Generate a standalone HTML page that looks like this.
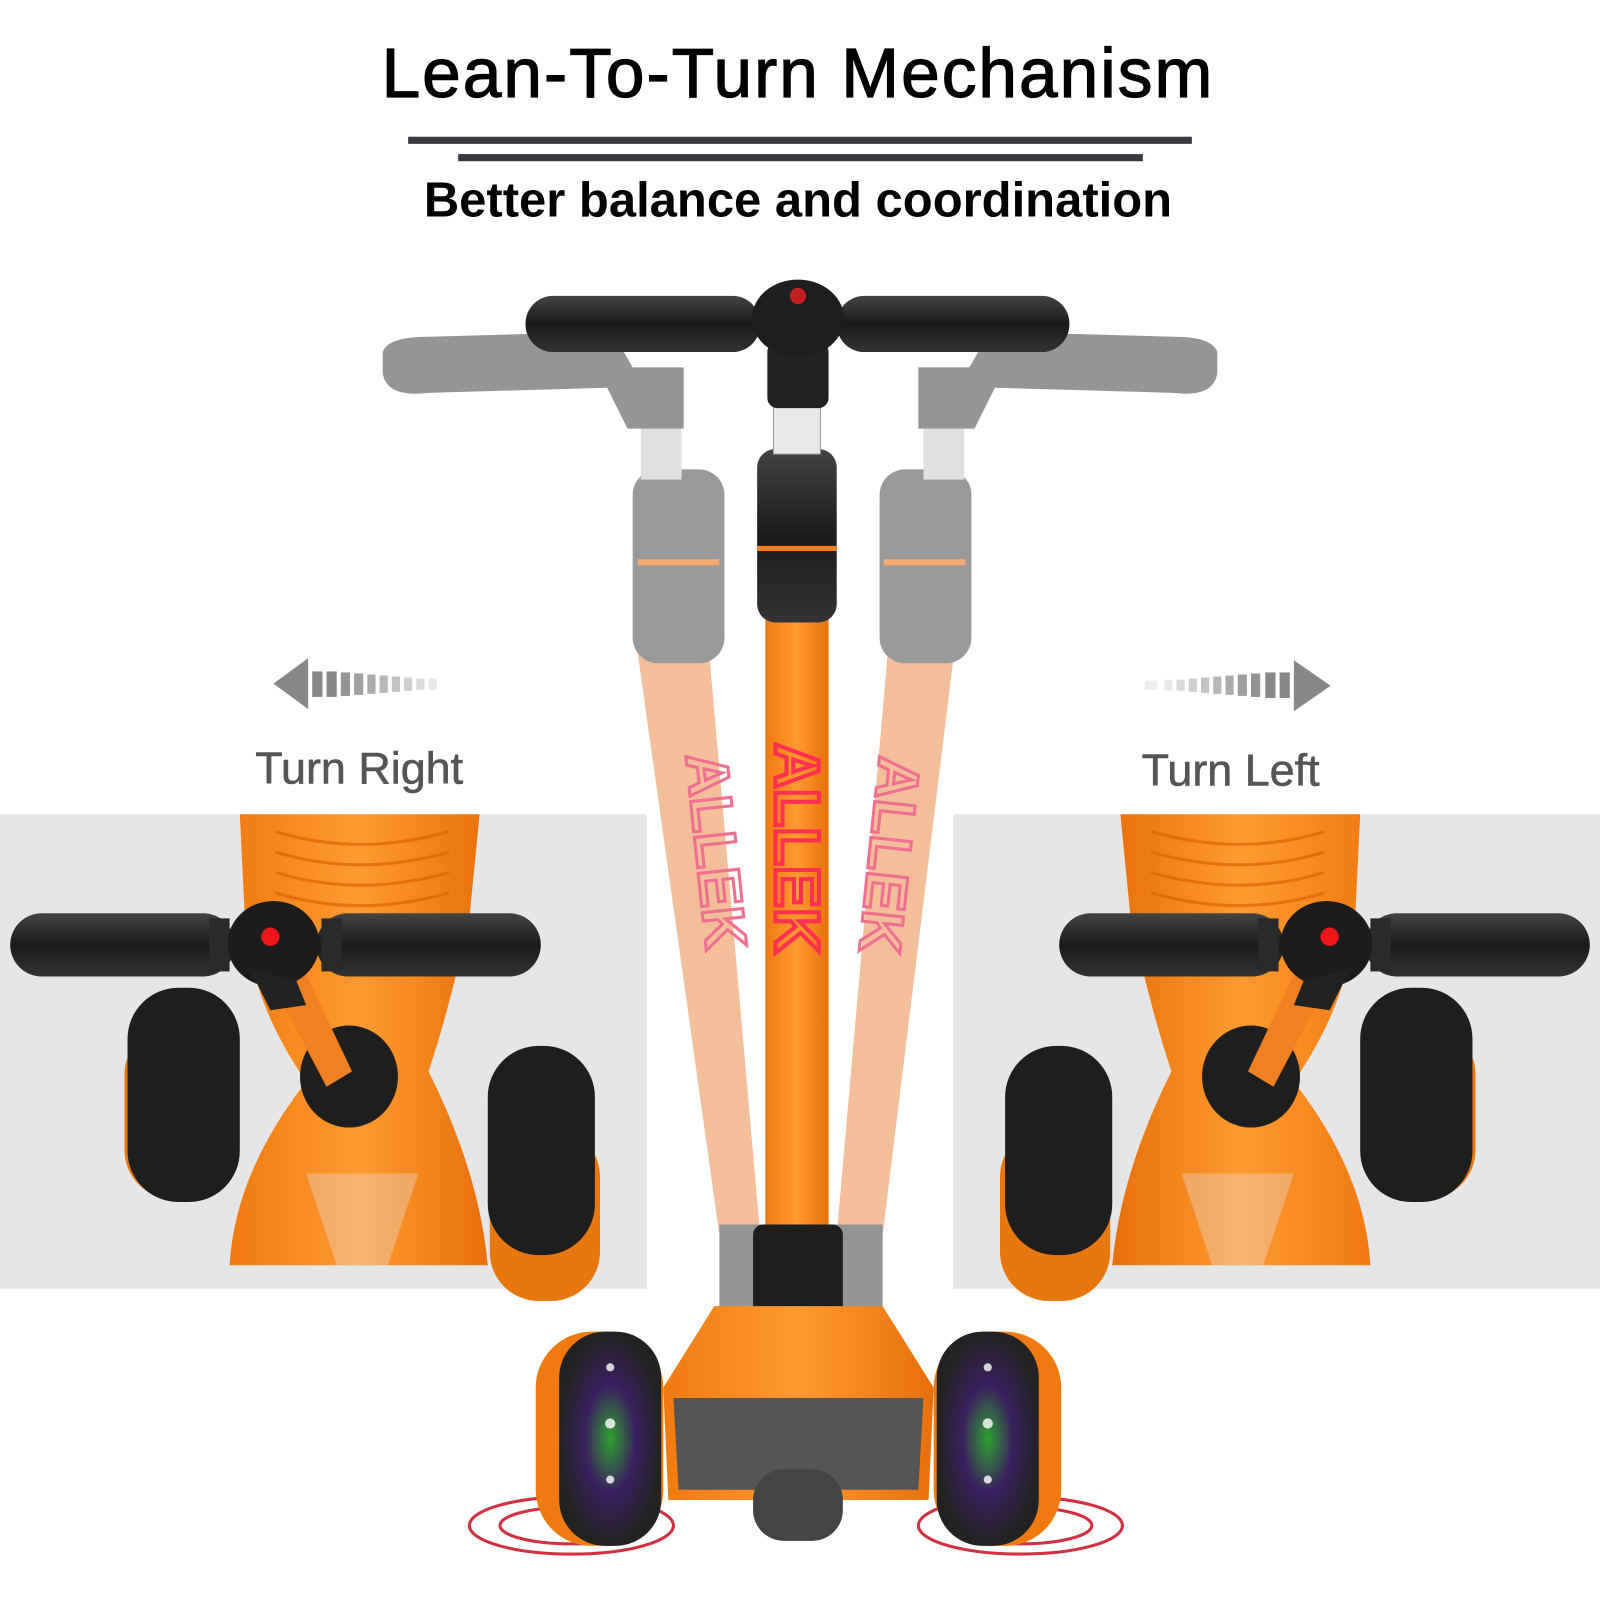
<!DOCTYPE html>
<html><head><meta charset="utf-8"><style>
html,body{margin:0;padding:0;background:#fff;}
svg{display:block;}
text{font-family:"Liberation Sans",sans-serif;}
</style></head><body>
<svg width="1600" height="1600" viewBox="0 0 1568 1568" xmlns="http://www.w3.org/2000/svg">
<defs>
<linearGradient id="og" x1="0" x2="1"><stop offset="0" stop-color="#f07a10"/><stop offset=".5" stop-color="#ff9a30"/><stop offset="1" stop-color="#e8700a"/></linearGradient>
<linearGradient id="bk" x1="0" x2="0" y1="0" y2="1"><stop offset="0" stop-color="#444"/><stop offset=".5" stop-color="#1a1a1a"/><stop offset="1" stop-color="#333"/></linearGradient>
<radialGradient id="wl"><stop offset="0" stop-color="#30a030"/><stop offset=".5" stop-color="#3a2060"/><stop offset="1" stop-color="#222"/></radialGradient>
<g id="inset">
  <rect x="0" y="798" width="634" height="465" fill="#e6e6e6"/>
  <path d="M235 798 H470 L460 900 Q440 990 420 1050 Q470 1150 478 1240 H225 Q230 1150 300 1060 Q245 980 240 900 Z" fill="url(#og)"/>
  <path d="M300 1150 L330 1240 H380 L410 1150 Z" fill="#e6e6e6" opacity=".35"/>
  <g stroke="#e0680a" stroke-width="3" fill="none" opacity=".8">
    <path d="M270 815 Q352 840 440 815"/><path d="M270 835 Q352 860 440 835"/><path d="M270 855 Q352 880 440 855"/><path d="M270 875 Q352 900 440 875"/>
  </g>
  <rect x="122" y="1005" width="108" height="170" rx="48" fill="#e8780e"/>
  <rect x="125" y="968" width="110" height="210" rx="50" fill="#1e1e1e"/>
  <rect x="480" y="1105" width="108" height="170" rx="48" fill="#e8780e"/>
  <rect x="478" y="1025" width="105" height="205" rx="50" fill="#1e1e1e"/>
  <ellipse cx="342" cy="1055" rx="48" ry="50" fill="#1e1e1e"/>
  <path d="M270 970 L300 955 L345 1050 L320 1065 Z" fill="#f08020"/>
  <rect x="10" y="895" width="220" height="62" rx="31" fill="url(#bk)"/>
  <rect x="310" y="895" width="220" height="62" rx="31" fill="url(#bk)"/>
  <rect x="205" y="900" width="20" height="52" fill="#2a2a2a"/>
  <rect x="315" y="900" width="20" height="52" fill="#2a2a2a"/>
  <ellipse cx="268" cy="925" rx="45" ry="42" fill="#1c1c1c"/>
  <path d="M245 950 L290 960 L300 985 L265 990 Z" fill="#222"/>
  <circle cx="265" cy="918" r="9" fill="#f0151a"/>
</g>
</defs>

<text x="782" y="95" font-size="68" text-anchor="middle" fill="#000" letter-spacing="2" stroke="#000" stroke-width="1.2">Lean-To-Turn Mechanism</text>
<rect x="400" y="134" width="768" height="7" fill="#3a3a40"/>
<rect x="449" y="151" width="671" height="7" fill="#3a3a40"/>
<text x="782" y="212" font-size="48" text-anchor="middle" fill="#000" font-weight="bold">Better balance and coordination</text>

<use href="#inset"/>
<use href="#inset" transform="translate(1568 0) scale(-1 1)"/>

<text x="352" y="768" font-size="44" text-anchor="middle" fill="#555" stroke="#555" stroke-width=".6">Turn Right</text>
<text x="1206" y="770" font-size="44" text-anchor="middle" fill="#555" stroke="#555" stroke-width=".6">Turn Left</text>
<polygon points="268,670 302,645 302,695" fill="#888"/>
<g fill="#888"><rect x="306" y="658" width="10" height="25"/><rect x="320" y="658" width="10" height="25"/><rect x="334" y="659" width="9" height="23" opacity=".9"/><rect x="347" y="660" width="9" height="21" opacity=".8"/><rect x="360" y="661" width="8" height="19" opacity=".7"/><rect x="372" y="662" width="8" height="17" opacity=".6"/><rect x="384" y="663" width="8" height="15" opacity=".5"/><rect x="396" y="664" width="8" height="13" opacity=".4"/><rect x="408" y="665" width="8" height="11" opacity=".3"/><rect x="420" y="665" width="8" height="11" opacity=".2"/></g>
<polygon points="1304,672 1268,647 1268,697" fill="#888"/>
<g fill="#888"><rect x="1254" y="659" width="10" height="25"/><rect x="1240" y="659" width="10" height="25"/><rect x="1226" y="660" width="9" height="23" opacity=".9"/><rect x="1213" y="661" width="9" height="21" opacity=".8"/><rect x="1201" y="662" width="8" height="19" opacity=".7"/><rect x="1189" y="663" width="8" height="17" opacity=".6"/><rect x="1177" y="664" width="8" height="15" opacity=".5"/><rect x="1165" y="665" width="8" height="13" opacity=".4"/><rect x="1153" y="666" width="8" height="11" opacity=".3"/><rect x="1141" y="666" width="8" height="11" opacity=".2"/><rect x="1122" y="667" width="12" height="9" opacity=".15"/></g>

<g opacity=".9">
<path d="M625 640 L695 640 L745 1210 L705 1210 Z" fill="#f2b88e"/>
<path d="M870 640 L935 640 L865 1210 L820 1210 Z" fill="#f2b88e"/>
<rect x="620" y="460" width="90" height="190" rx="25" fill="#8e8e8e"/>
<rect x="862" y="460" width="90" height="190" rx="25" fill="#8e8e8e"/>
<rect x="628" y="410" width="40" height="60" fill="#ddd"/>
<rect x="905" y="410" width="40" height="60" fill="#ddd"/>
<path d="M375 345 Q380 330 420 330 L600 325 L620 360 L670 360 L670 420 L615 420 L595 380 L420 385 Q378 390 375 365 Z" fill="#8a8a8a"/>
<path d="M1193 345 Q1188 330 1150 330 L970 325 L950 360 L900 360 L900 420 L955 420 L975 380 L1150 385 Q1190 390 1193 365 Z" fill="#8a8a8a"/>
<rect x="625" y="548" width="80" height="6" fill="#f5a060"/>
<rect x="866" y="548" width="80" height="6" fill="#f5a060"/>
<rect x="705" y="1200" width="160" height="110" fill="#8a8a8a"/>
</g>
<text font-size="58" font-weight="bold" fill="none" stroke="#f07090" stroke-width="3" transform="translate(672 740) rotate(84)">ALLEK</text>
<text font-size="58" font-weight="bold" fill="none" stroke="#f07090" stroke-width="3" transform="translate(862 740) rotate(96)">ALLEK</text>

<rect x="750" y="540" width="62" height="680" fill="url(#og)"/>
<text font-size="62" font-weight="bold" fill="none" stroke="#ff3050" stroke-width="4" transform="translate(760 728) rotate(90)">ALLEK</text>
<rect x="742" y="440" width="78" height="170" rx="18" fill="url(#bk)"/>
<rect x="742" y="535" width="78" height="5" fill="#f08020"/>
<rect x="758" y="395" width="46" height="50" fill="#e8e8e8" stroke="#999"/>
<rect x="752" y="335" width="60" height="65" rx="10" fill="#222"/>
<rect x="515" y="290" width="230" height="55" rx="27" fill="url(#bk)"/>
<rect x="820" y="290" width="228" height="55" rx="27" fill="url(#bk)"/>
<ellipse cx="782" cy="312" rx="45" ry="38" fill="#1e1e1e"/>
<circle cx="782" cy="290" r="8" fill="#c02020"/>

<rect x="738" y="1200" width="88" height="120" rx="10" fill="#1e1e1e"/>
<ellipse cx="560" cy="1495" rx="100" ry="28" fill="none" stroke="#d03040" stroke-width="3"/>
<ellipse cx="560" cy="1495" rx="70" ry="18" fill="none" stroke="#d03040" stroke-width="3"/>
<ellipse cx="1000" cy="1495" rx="100" ry="28" fill="none" stroke="#d03040" stroke-width="3"/>
<ellipse cx="1000" cy="1495" rx="70" ry="18" fill="none" stroke="#d03040" stroke-width="3"/>
<path d="M650 1360 L700 1280 H865 L915 1360 L910 1470 H655 Z" fill="url(#og)"/>
<path d="M660 1370 H905 L900 1460 H665 Z" fill="#555"/>
<rect x="738" y="1440" width="88" height="70" rx="30" fill="#444"/>
<rect x="525" y="1305" width="125" height="210" rx="55" fill="#f07a10"/>
<rect x="548" y="1305" width="100" height="210" rx="45" fill="url(#wl)"/>
<rect x="915" y="1305" width="125" height="210" rx="55" fill="#f07a10"/>
<rect x="918" y="1305" width="100" height="210" rx="45" fill="url(#wl)"/>
<g fill="#fff" opacity=".8"><circle cx="598" cy="1340" r="4"/><circle cx="598" cy="1395" r="5"/><circle cx="598" cy="1450" r="4"/><circle cx="968" cy="1340" r="4"/><circle cx="968" cy="1395" r="5"/><circle cx="968" cy="1450" r="4"/></g>
</svg>
</body></html>
